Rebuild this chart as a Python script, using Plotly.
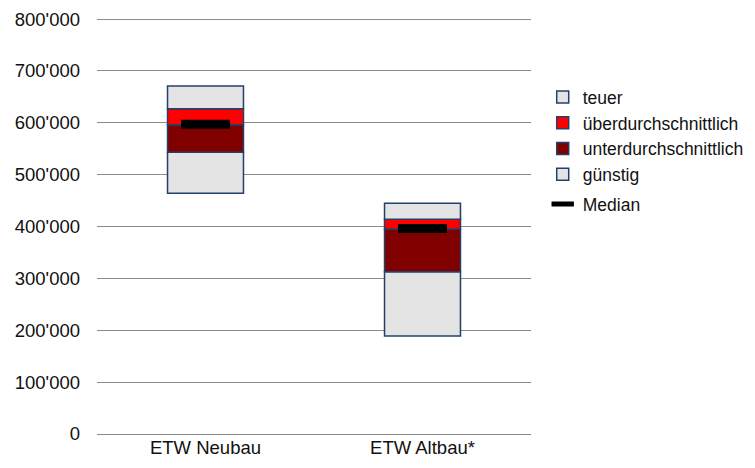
import plotly.graph_objects as go

categories = ["ETW Neubau", "ETW Altbau*"]

# price bands: lower / upper bound per category
guenstig_lo = [464000, 189000]
guenstig_hi = [543000, 313000]
unter_hi = [596000, 395000]
ueber_hi = [627000, 414000]
teuer_hi = [671000, 445000]
median = [597000, 396000]

FONT = "Liberation Sans, Arial, sans-serif"
BORDER = "#23406A"

bands = [
    ("günstig", guenstig_lo, guenstig_hi, "#E4E4E4", 4),
    ("unterdurchschnittlich", guenstig_hi, unter_hi, "#800000", 3),
    ("überdurchschnittlich", unter_hi, ueber_hi, "#FF0000", 2),
    ("teuer", ueber_hi, teuer_hi, "#E4E4E4", 1),
]

fig = go.Figure()
for name, lo, hi, color, rank in bands:
    fig.add_trace(go.Bar(
        x=categories,
        base=lo,
        y=[h - l for l, h in zip(lo, hi)],
        name=name,
        legendrank=rank,
        legendgroup="bands",
        marker=dict(color=color, line=dict(color=BORDER, width=1.5)),
        width=0.35,
        hoverinfo="skip",
    ))

fig.add_trace(go.Scatter(
    x=categories,
    y=median,
    name="Median",
    legendrank=5,
    legendgroup="median",
    mode="markers",
    marker=dict(symbol="line-ew", size=35, color="black",
                line=dict(color="black", width=9)),
    hoverinfo="skip",
))

fig.update_layout(
    width=755,
    height=468,
    margin=dict(l=97, r=224, t=18, b=34, autoexpand=False),
    paper_bgcolor="white",
    plot_bgcolor="white",
    barmode="overlay",
    separators=".'",
    font=dict(family=FONT, size=18.5, color="#111"),
    showlegend=True,
    legend=dict(
        x=1.027, y=0.853, xanchor="left", yanchor="top",
        font=dict(family=FONT, size=17.5, color="#111"),
        bgcolor="rgba(0,0,0,0)",
        tracegroupgap=4,
        itemclick=False,
    ),
    xaxis=dict(
        showgrid=False, showline=False, zeroline=False,
        tickfont=dict(size=18.5),
    ),
    yaxis=dict(
        range=[0, 802000],
        dtick=100000,
        tickformat=",d",
        showgrid=True, gridcolor="#8C8C8C", gridwidth=1.3,
        zeroline=True, zerolinecolor="#8C8C8C", zerolinewidth=1.3,
        showline=False,
        ticklabelstandoff=16,
        tickfont=dict(size=18.5),
    ),
)

fig.write_html("out.html")
